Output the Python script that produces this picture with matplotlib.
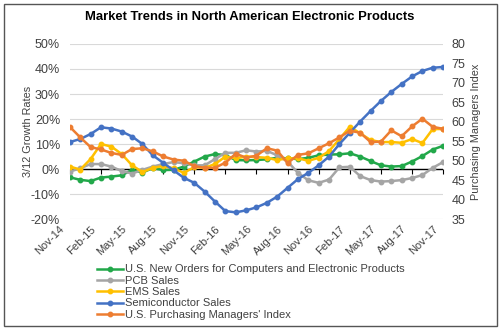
import matplotlib
matplotlib.use("Agg")
import matplotlib.pyplot as plt
from matplotlib.lines import Line2D
from matplotlib.patches import Rectangle
from matplotlib.transforms import ScaledTranslation
import pandas as pd

plt.rcParams['font.family'] = ['Liberation Sans', 'DejaVu Sans']

# monthly series, Nov-14 .. Nov-17
months = pd.date_range('2014-11-01', periods=37, freq='MS')
month_labels = [m.strftime('%b-%y') for m in months]

new_orders = [-3.3, -4.3, -4.8, -3.4, -3.0, -2.5, -0.3, -1.4, 0.4, -0.4, -0.3, 1.0,
              3.0, 5.0, 6.0, 5.6, 3.6, 3.5, 3.6, 3.9, 4.5, 4.3, 4.0, 4.5,
              5.5, 5.8, 5.9, 6.3, 5.0, 3.2, 1.5, 1.0, 1.2, 3.0, 5.2, 7.8, 9.3]
pcb_sales = [-1.0, 0.3, 2.0, 2.0, 1.0, -0.8, -1.8, -0.3, 1.0, 2.0, 2.8, 2.3,
             1.5, 1.5, 4.0, 6.5, 6.5, 7.5, 7.0, 7.3, 5.5, 3.0, -1.5, -4.5,
             -5.5, -4.2, 0.7, 0.9, -2.8, -4.4, -5.0, -4.8, -4.4, -3.6, -2.4, 0.5, 2.8]
ems_sales = [1.0, -0.2, 4.0, 10.0, 9.0, 6.0, 1.5, -1.2, 0.5, 1.2, 0.3, -1.5,
             0.8, 0.5, 2.0, 5.0, 4.3, 5.0, 4.8, 4.5, 3.6, 4.3, 4.3, 3.3,
             4.5, 7.2, 12.0, 16.9, 14.3, 11.6, 10.8, 10.8, 10.5, 12.0, 10.4, 16.0, 16.0]
semi_sales = [10.8, 12.0, 14.0, 16.7, 16.2, 15.0, 13.0, 10.0, 5.5, 2.5, -0.5, -3.5,
              -5.5, -9.0, -13.0, -16.8, -17.3, -16.5, -15.3, -13.5, -11.0, -7.5, -4.0, -1.5,
              1.5, 5.0, 10.0, 14.5, 19.0, 23.2, 27.2, 30.8, 34.0, 37.0, 39.2, 40.5, 40.8]
pmi = [58.7, 56.0, 53.5, 52.9, 52.0, 51.5, 53.0, 53.2, 52.4, 51.1, 50.3, 50.0,
       48.6, 48.2, 48.2, 49.5, 51.8, 50.8, 51.3, 53.2, 52.6, 49.4, 51.5, 51.9,
       53.2, 54.5, 56.0, 57.7, 57.2, 54.8, 54.9, 57.8, 56.3, 58.8, 60.8, 58.7, 58.2]

left_series = [
    ('U.S. New Orders for Computers and Electronic Products', new_orders, '#22a84a'),
    ('PCB Sales', pcb_sales, '#a5a5a5'),
    ('EMS Sales', ems_sales, '#ffc000'),
    ('Semiconductor Sales', semi_sales, '#4472c4'),
]
pmi_label = "U.S. Purchasing Managers' Index"
pmi_color = '#ed7d31'

text_color = '#404040'
line_kw = dict(lw=1.8, marker='o', ms=3.2)
x = list(range(len(months)))

fig = plt.figure(figsize=(4.99, 3.33), dpi=100)
ax = fig.add_axes([0.140, 0.342, 0.748, 0.526])
ax2 = ax.twinx()

handles = []
for label, vals, color in left_series:
    ax.plot(x, vals, color=color, zorder=3, **line_kw)
    handles.append(Line2D([], [], color=color, label=label, **line_kw))
ax2.plot(x, pmi, color=pmi_color, zorder=3, **line_kw)
handles.append(Line2D([], [], color=pmi_color, label=pmi_label, **line_kw))

ax.set_xlim(0, len(x) - 1)
ax.set_ylim(-20, 50)
ax.set_yticks(range(-20, 51, 10))
ax.set_yticklabels([f'{v}%' for v in range(-20, 51, 10)])
ax.grid(axis='y', color='#d9d9d9', lw=0.8)
ax.set_axisbelow(True)
ax.axhline(0, color='black', lw=1.0, zorder=2)

tick_pos = x[::3]
ax.set_xticks(tick_pos)
ax.set_xticklabels(month_labels[::3], rotation=45, ha='right', va='center',
                   rotation_mode='anchor')
ax.tick_params(axis='x', length=0, pad=6, labelsize=8, labelcolor=text_color)
# nudge the slanted month labels so they end right under their tick
shift = ScaledTranslation(-5 / 72, 0, fig.dpi_scale_trans)
for lbl in ax.get_xticklabels():
    lbl.set_transform(lbl.get_transform() + shift)
ax.tick_params(axis='y', length=0, pad=7, labelsize=9, labelcolor=text_color)

# small tick marks hanging off the zero line
zero_axis = ax.secondary_xaxis(2 / 7)
zero_axis.set_xticks(tick_pos)
zero_axis.set_xticklabels([])
zero_axis.tick_params(axis='x', length=3.5, width=0.8, color='black', direction='out')
zero_axis.spines['bottom'].set_visible(False)

ax2.set_ylim(35, 80)
ax2.set_yticks(range(35, 81, 5))
ax2.tick_params(axis='y', length=0, pad=6, labelsize=9, labelcolor=text_color)

for a in (ax, ax2):
    for s in a.spines.values():
        s.set_visible(False)

ax.set_ylabel('3/12 Growth Rates', fontsize=7.8, color=text_color)
ax.yaxis.set_label_coords(-0.099, 0.5)
ax2.set_ylabel('Purchasing Managers Index', fontsize=7.8, color=text_color, labelpad=4)

fig.text(0.5, 0.948, 'Market Trends in North American Electronic Products',
         ha='center', va='center', fontsize=9.4, fontweight='bold', color='black')

fig.legend(handles=handles, loc='upper left', bbox_to_anchor=(0.195, 0.206),
           frameon=False, fontsize=8, handlelength=2.3, handletextpad=0.15,
           labelspacing=0.12, borderaxespad=0, borderpad=0, labelcolor=text_color)

fig.add_artist(Rectangle((0.008, 0.021), 0.988, 0.967, transform=fig.transFigure,
                         fill=False, lw=1.0, ec='#555555'))

fig.savefig('out.png', dpi=100)
